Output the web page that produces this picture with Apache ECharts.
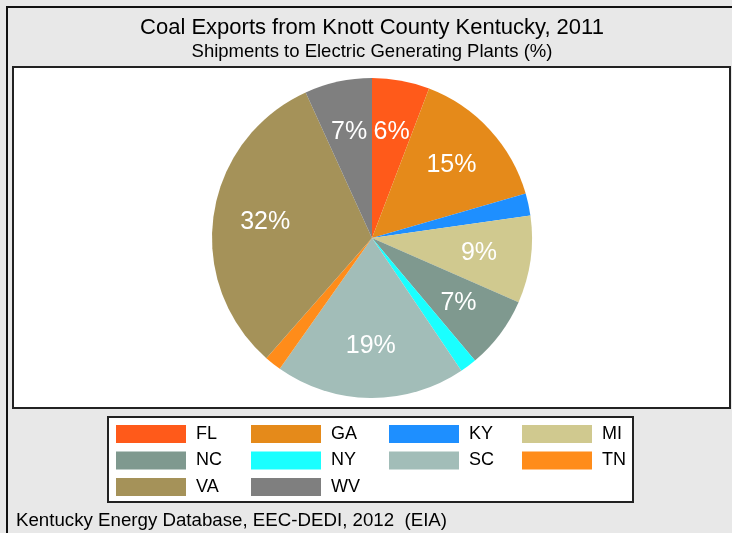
<!DOCTYPE html>
<html>
<head>
<meta charset="utf-8">
<script src="https://cdn.jsdelivr.net/npm/echarts@6/dist/echarts.min.js"></script>
<style>
html,body{margin:0;padding:0;background:#e8e8e8;}
#main{width:732px;height:533px;}
</style>
</head>
<body>
<div id="main"></div>
<script>
var states = ['FL','GA','KY','MI','NC','NY','SC','TN','VA','WV'];
var shares = [5.8, 14.7, 2.25, 8.8, 7.3, 1.7, 19.2, 1.7, 31.7, 6.8];
var colors = ['#ff5a1a','#e58a1a','#1e8fff','#d0c98f','#7f998f','#1affff','#a2bdb8','#ff8c1a','#a59259','#7f7f7f'];
var titleText = 'Coal Exports from Knott County Kentucky, 2011';
var subtitleText = 'Shipments to Electric Generating Plants (%)';
var footerText = 'Kentucky Energy Database, EEC-DEDI, 2012  (EIA)';

var FONT = '"Liberation Sans", Arial, sans-serif';
var chart = echarts.init(document.getElementById('main'), null, {renderer:'canvas'});

var pieData = states.map(function(s,i){ return {name:s, value:shares[i], itemStyle:{color:colors[i]}}; });
var labelData = shares.map(function(v){ return {value:v}; });

var legendCols = [0,1,2,3].map(function(c){
  var names = states.filter(function(s,i){ return i % 4 === c; });
  var lefts = [116, 251, 389, 522];
  return {
    orient:'vertical', left:lefts[c], top:425,
    data:names, itemWidth:70, itemHeight:18, itemGap:8.5,
    icon:'rect', selectedMode:false,
    textStyle:{fontFamily:FONT, fontSize:18, color:'#000', padding:[0,0,0,5]},
    padding:0
  };
});

var option = {
  backgroundColor:'#e8e8e8',
  animation:false,
  legend: legendCols,
  graphic:[
    {type:'rect', shape:{x:7, y:7, width:740, height:540}, style:{fill:'#e8e8e8', stroke:'#111', lineWidth:2}, z:-10},
    {type:'rect', shape:{x:13, y:67, width:717, height:341}, style:{fill:'#fff', stroke:'#222', lineWidth:2}, z:-9},
    {type:'rect', shape:{x:108, y:417, width:525, height:85}, style:{fill:'#fff', stroke:'#222', lineWidth:2}, z:-9},
    {type:'text', x:372, y:28, style:{text:titleText, font:'22px ' + FONT, fill:'#000', align:'center', verticalAlign:'middle'}},
    {type:'text', x:372, y:52, style:{text:subtitleText, font:'18.5px ' + FONT, fill:'#000', align:'center', verticalAlign:'middle'}},
    {type:'text', x:16, y:521, style:{text:footerText, font:'18.7px ' + FONT, fill:'#000', align:'left', verticalAlign:'middle'}}
  ],
  series:[
    {
      type:'pie', center:[372,238], radius:[0,160], startAngle:90, clockwise:true,
      data:pieData, label:{show:false}, labelLine:{show:false}, silent:true,
      itemStyle:{borderWidth:0}
    },
    {
      type:'pie', center:[372,238], radius:[50,160], startAngle:90, clockwise:true,
      data:labelData, silent:true,
      itemStyle:{color:'rgba(0,0,0,0)', borderWidth:0},
      label:{show:true, position:'inside', color:'#fff', fontFamily:FONT, fontSize:25,
        formatter:function(p){ return p.value >= 5 ? Math.round(p.value) + '%' : ''; }},
      labelLine:{show:false}, z:5
    }
  ]
};
chart.setOption(option);
</script>
</body>
</html>
